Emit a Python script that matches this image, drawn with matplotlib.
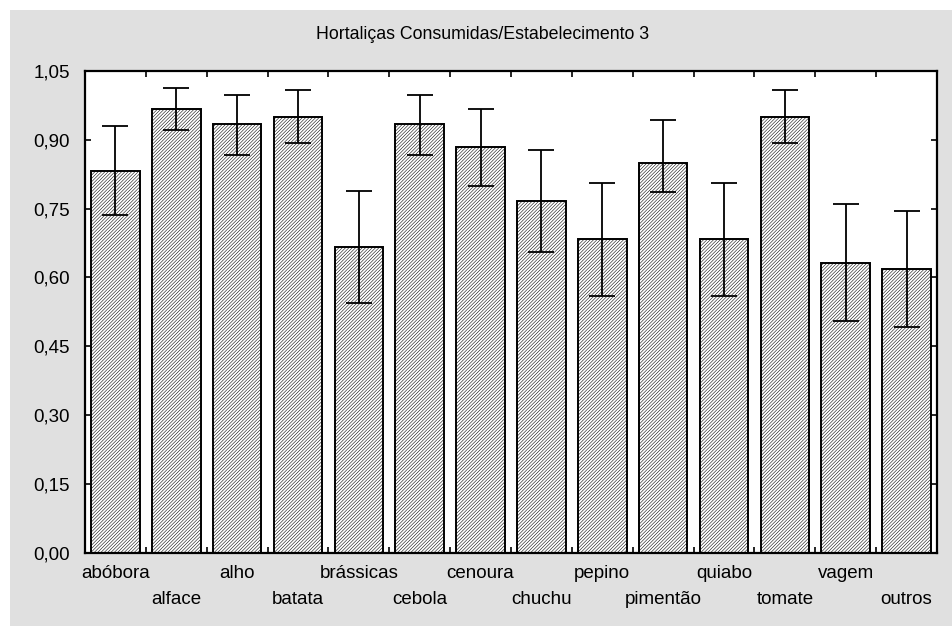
import matplotlib
matplotlib.use("Agg")
import matplotlib.pyplot as plt
from matplotlib.patches import Rectangle
from matplotlib.ticker import FuncFormatter
import numpy as np

categories = ["abóbora", "alface", "alho", "batata", "brássicas", "cebola", "cenoura",
              "chuchu", "pepino", "pimentão", "quiabo", "tomate", "vagem", "outros"]
means = [0.832, 0.967, 0.933, 0.950, 0.666, 0.933, 0.884,
         0.767, 0.684, 0.849, 0.684, 0.949, 0.632, 0.618]
err_lower = [0.096, 0.047, 0.066, 0.058, 0.122, 0.066, 0.085,
             0.112, 0.124, 0.062, 0.124, 0.056, 0.127, 0.127]
err_upper = [0.098, 0.045, 0.065, 0.057, 0.123, 0.065, 0.083,
             0.110, 0.121, 0.094, 0.121, 0.058, 0.127, 0.127]
yticks = [0.00, 0.15, 0.30, 0.45, 0.60, 0.75, 0.90, 1.05]
title = "Hortaliças Consumidas/Estabelecimento 3"

plt.rcParams['font.family'] = ['Liberation Sans', 'DejaVu Sans']
plt.rcParams['hatch.linewidth'] = 0.38
plt.rcParams['hatch.color'] = '#111111'

W, H = 953, 626
fig = plt.figure(figsize=(W / 100, H / 100), dpi=100)
fig.patch.set_facecolor('white')
bg = Rectangle((10 / W, 0), 1 - 10 / W, 1 - 10 / H, transform=fig.transFigure,
               facecolor='#e0e0e0', edgecolor='none', zorder=-10)
fig.add_artist(bg)

ax = fig.add_axes([85 / W, 1 - 553 / H, (937 - 85) / W, (553 - 70.7) / H])
ax.set_zorder(1)
ax.set_facecolor('white')

x = np.arange(len(categories))
ax.bar(x, means, width=0.8, facecolor='white', edgecolor='black', linewidth=1.4,
       hatch='/' * 10, zorder=2)
ax.errorbar(x, means, yerr=[err_lower, err_upper], fmt='none', ecolor='black',
            elinewidth=1.3, capsize=9.5, capthick=1.3, zorder=3)

ax.set_xlim(-0.5, len(categories) - 0.5)
ax.set_ylim(0, 1.05)
ax.set_yticks(yticks)
ax.yaxis.set_major_formatter(FuncFormatter(lambda v, p: f"{v:.2f}".replace('.', ',')))

ax.set_xticks(x)
ax.set_xticklabels(categories)
ax.set_xticks(np.arange(len(categories) - 1) + 0.5, minor=True)

ax.tick_params(axis='x', which='major', length=0, labelsize=13.5)
ax.tick_params(axis='x', which='minor', direction='in', length=4, width=1.2,
               top=True, bottom=True)
ax.tick_params(axis='y', which='major', direction='in', length=4, width=1.2,
               left=True, right=True, pad=11, labelsize=13.5)
for i, t in enumerate(ax.xaxis.get_major_ticks()):
    t.set_pad(9 if i % 2 == 0 else 27)

for s in ax.spines.values():
    s.set_linewidth(1.6)
    s.set_color('black')

fig.text((316 + 650) / 2 / W, 1 - 39.3 / H, title, ha='center', va='baseline', fontsize=12.8)

fig.savefig("out.png", dpi=100)
